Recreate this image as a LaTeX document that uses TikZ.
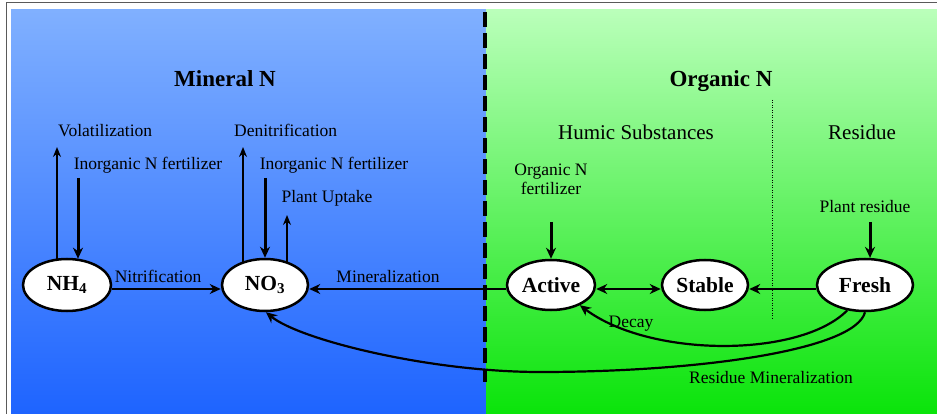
\documentclass[tikz,border=0pt]{standalone}
\usepackage{fontspec}
\setmainfont{Liberation Serif}
\usetikzlibrary{arrows.meta,shapes.geometric}
\definecolor{bluetop}{RGB}{128,176,255}
\definecolor{bluebot}{RGB}{30,100,255}
\definecolor{greentop}{RGB}{186,255,186}
\definecolor{greenbot}{RGB}{10,228,10}
\definecolor{framegray}{RGB}{90,90,90}
\begin{document}
\begin{tikzpicture}[x=1pt,y=-1pt,
  pool/.style={ellipse,draw=black,line width=2.5pt,fill=white,minimum width=88pt,minimum height=52pt,inner sep=0pt,font=\fontsize{21.5}{24}\selectfont\bfseries},
  lbl/.style={inner sep=0pt,anchor=base,font=\fontsize{17.5}{20}\selectfont},
  ttl/.style={inner sep=0pt,anchor=base,font=\fontsize{23}{26}\selectfont\bfseries},
  sub/.style={inner sep=0pt,anchor=base,font=\fontsize{21}{24}\selectfont},
  thinarrow/.style={line width=1.5pt,-{Stealth[length=10pt,width=8pt]}},
  thickarrow/.style={line width=3pt,-{Stealth[length=11pt,width=10pt]}},
  flow/.style={line width=2.2pt,-{Stealth[length=11pt,width=10pt]}},
  curveflow/.style={line width=2.2pt,-{Stealth[length=11pt,width=10pt]}},
]
\useasboundingbox (0,0) rectangle (937,414);
% backgrounds
\shade[top color=bluetop,bottom color=bluebot] (11,10) rectangle (486,413);
\shade[top color=greentop,bottom color=greenbot] (486,10) rectangle (937,413);
\draw[framegray,line width=1pt] (6,414) -- (6,3) -- (937,3);
% divider lines
\draw[line width=4pt,dash pattern=on 15pt off 6pt] (485,12) -- (485,382);
\draw[line width=0.8pt,dash pattern=on 1pt off 1.5pt] (772,100) -- (772,320);
% titles
\node[ttl] (tmin) at (225,87) {Mineral N};
\node[ttl] (torg) at (721,87) {Organic N};
\node[sub] (thum) at (636,140) {Humic Substances};
\node[sub] (tres) at (862,140) {Residue};
% labels
\node[lbl,anchor=base west] (volat) at (58,137) {Volatilization};
\node[lbl,anchor=base west] (denit) at (234,137) {Denitrification};
\node[lbl] (fert1) at (148,170) {Inorganic N fertilizer};
\node[lbl] (fert2) at (334,170) {Inorganic N fertilizer};
\node[lbl] (uptake) at (327,203) {Plant Uptake};
\node[lbl,align=center,anchor=base] (orgfert) at (551,195) {Organic N\\[-1pt]fertilizer};
\node[lbl] (plantres) at (865,213) {Plant residue};
\node[lbl] (nitr) at (158,282) {Nitrification};
\node[lbl] (miner) at (388,282) {Mineralization};
\node[lbl] (decay) at (631,327) {Decay};
\node[lbl] (resmin) at (771,383) {Residue Mineralization};
% pools
\node[pool] (nh4) at (67,285) {NH\textsubscript{4}};
\node[pool,minimum width=86pt] (no3) at (265,285) {NO\textsubscript{3}};
\node[pool,minimum height=50pt] (active) at (551,285) {Active};
\node[pool,minimum width=86pt,minimum height=50pt] (stable) at (705,285) {Stable};
\node[pool,minimum width=96pt,minimum height=52pt] (fresh) at (865,285) {Fresh};
% free ends
\coordinate (vtop) at (57,147);
\coordinate (f1) at (78,178);
\coordinate (dtop) at (243,147);
\coordinate (f2) at (265,178);
\coordinate (utop) at (287,215);
\coordinate (f3) at (551,222);
\coordinate (f4) at (870,222);
\coordinate (rm) at (540,372);
% vertical arrows
\draw[thinarrow] (vtop |- nh4.112) -- (vtop);
\draw[thickarrow] (f1) -- (f1 |- nh4.66);
\draw[thinarrow] (dtop |- no3.135) -- (dtop);
\draw[thickarrow] (f2) -- (f2 |- no3.north);
\draw[thinarrow] (utop |- no3.45) -- (utop);
\draw[thickarrow] (f3) -- (f3 |- active.north);
\draw[thickarrow] (f4) -- (f4 |- fresh.80);
% horizontal flows
\draw[flow] ([yshift=-4pt]nh4.east) -- ([yshift=-4pt]no3.west);
\draw[flow] ([yshift=-4pt]active.west) -- ([yshift=-4pt]no3.east);
\draw[line width=2.2pt,{Stealth[length=11pt,width=10pt]}-{Stealth[length=11pt,width=10pt]}] ([yshift=-4pt]active.east) -- ([yshift=-4pt]stable.west);
\draw[flow] ([yshift=-4pt]fresh.west) -- ([yshift=-4pt]stable.east);
% curves
\draw[curveflow] (fresh.235) .. controls (800,358) and (650,358) .. (active.-35);
\draw[curveflow] (fresh.south) .. controls (855,350) and (700,372) .. (rm) .. controls (430,372) and (300,340) .. (no3.-88);
\end{tikzpicture}
\end{document}
